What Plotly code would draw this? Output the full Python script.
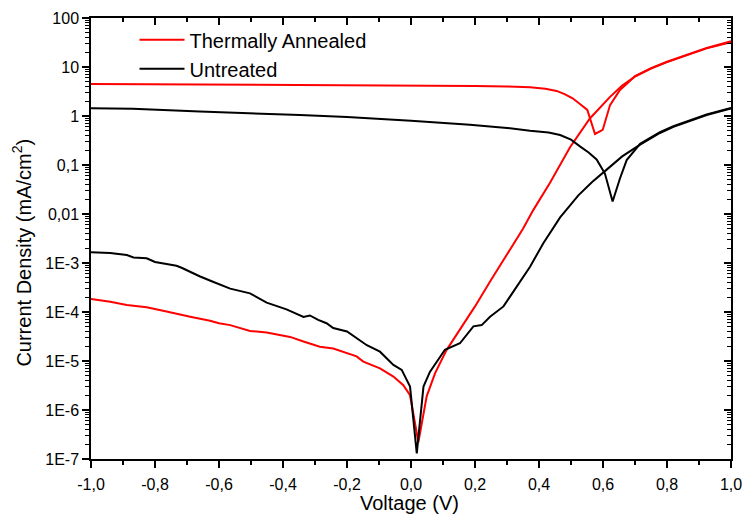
import plotly.graph_objects as go

# ---------------- data ----------------
annealed_dark_v = [-1.0, -0.94, -0.888, -0.826, -0.764, -0.733, -0.69, -0.628, -0.6, -0.565,
                   -0.503, -0.451, -0.378, -0.336, -0.285, -0.243, -0.2, -0.17, -0.149, -0.097,
                   -0.055, -0.024, -0.003, 0.023, 0.049, 0.075, 0.111, 0.153, 0.2, 0.25, 0.3,
                   0.35, 0.382, 0.434, 0.497, 0.559, 0.622, 0.66, 0.7, 0.75, 0.8, 0.87,
                   0.924, 1.0]
annealed_dark_j = [1.85e-4, 1.62e-4, 1.39e-4, 1.25e-4, 1.02e-4, 9.1e-5, 8.0e-5, 6.6e-5, 5.9e-5, 5.4e-5,
                   4.1e-5, 3.8e-5, 3.1e-5, 2.5e-5, 1.96e-5, 1.8e-5, 1.43e-5, 1.24e-5, 9.7e-6, 7.1e-6,
                   4.8e-6, 3.2e-6, 2.0e-6, 2.2e-7, 1.9e-6, 5.6e-6, 1.67e-5, 4.3e-5, 1.3e-4, 4.5e-4, 1.5e-3,
                   5.0e-3, 0.012, 0.043, 0.23, 0.89, 2.46, 4.2, 6.4, 9.3, 12.6, 18.0,
                   24.0, 32.0]

annealed_light_v = [-1.0, -0.8, -0.6, -0.4, -0.2, 0.0, 0.2, 0.3, 0.372, 0.42, 0.455, 0.48, 0.505,
                    0.528, 0.551, 0.575, 0.599, 0.622, 0.653, 0.7, 0.75, 0.8, 0.87, 0.924, 1.0]
annealed_light_j = [4.5, 4.45, 4.4, 4.3, 4.2, 4.15, 4.1, 4.0, 3.85, 3.6, 3.25, 2.8, 2.3,
                    1.75, 1.33, 0.43, 0.52, 1.67, 3.4, 6.5, 9.5, 12.8, 18.3, 24.5, 33.5]

untreated_dark_v = [-1.0, -0.94, -0.888, -0.867, -0.826, -0.8, -0.764, -0.733, -0.717, -0.69,
                    -0.659, -0.617, -0.565, -0.503, -0.451, -0.389, -0.336, -0.316, -0.29, -0.264,
                    -0.243, -0.2, -0.17, -0.138, -0.097, -0.055, -0.029, -0.003, 0.018, 0.039,
                    0.059, 0.106, 0.153, 0.195, 0.221, 0.247, 0.289, 0.33, 0.372, 0.413, 0.466,
                    0.523, 0.566, 0.606, 0.66, 0.716, 0.778, 0.82, 0.924, 1.0]
untreated_dark_j = [1.65e-3, 1.6e-3, 1.45e-3, 1.3e-3, 1.25e-3, 1.05e-3, 9.5e-4, 8.8e-4, 8.0e-4, 6.5e-4,
                    5.3e-4, 4.1e-4, 3.0e-4, 2.4e-4, 1.55e-4, 1.13e-4, 7.9e-5, 8.5e-5, 6.9e-5, 5.9e-5,
                    4.7e-5, 4.0e-5, 2.9e-5, 2.1e-5, 1.55e-5, 8.3e-6, 6.6e-6, 3.0e-6, 1.3e-7, 3.0e-6,
                    6.0e-6, 1.7e-5, 2.3e-5, 5.1e-5, 5.4e-5, 8.0e-5, 1.3e-4, 3.3e-4, 8.4e-4, 2.5e-3, 8.5e-3,
                    0.024, 0.045, 0.075, 0.15, 0.26, 0.45, 0.6, 1.05, 1.42]

untreated_light_v = [-1.0, -0.87, -0.66, -0.5, -0.347, -0.2, -0.1, 0.0, 0.184, 0.3, 0.372, 0.43,
                     0.466, 0.5, 0.528, 0.555, 0.58, 0.606, 0.63, 0.653, 0.674, 0.716, 0.778,
                     0.82, 0.924, 1.0]
untreated_light_j = [1.44, 1.4, 1.23, 1.15, 1.05, 0.95, 0.88, 0.8, 0.66, 0.57, 0.5, 0.46,
                     0.41, 0.33, 0.24, 0.18, 0.13, 0.067, 0.018, 0.053, 0.126, 0.27, 0.47,
                     0.62, 1.08, 1.46]

x_tick_vals = [-1.0, -0.8, -0.6, -0.4, -0.2, 0.0, 0.2, 0.4, 0.6, 0.8, 1.0]
x_tick_text = ["-1,0", "-0,8", "-0,6", "-0,4", "-0,2", "0,0", "0,2", "0,4", "0,6", "0,8", "1,0"]
y_tick_vals = [1e-7, 1e-6, 1e-5, 1e-4, 1e-3, 1e-2, 1e-1, 1, 10, 100]
y_tick_text = ["1E-7", "1E-6", "1E-5", "1E-4", "1E-3", "0,01", "0,1", "1", "10", "100"]

RED = "#ff0000"
BLACK = "#000000"
FONT = "Liberation Sans, Arial, sans-serif"

# minor tick positions (styling)
x_minor = [round(-1.0 + 0.1 * i, 2) for i in range(21)]
y_minor = [k * 10.0 ** e for e in range(-7, 2) for k in range(2, 10)]

fig = go.Figure()
fig.add_trace(go.Scatter(x=annealed_light_v, y=annealed_light_j, mode="lines",
                         line=dict(color=RED, width=2), name="Thermally Annealed",
                         legendgroup="a", showlegend=True))
fig.add_trace(go.Scatter(x=annealed_dark_v, y=annealed_dark_j, mode="lines",
                         line=dict(color=RED, width=2), name="Thermally Annealed",
                         legendgroup="a", showlegend=False))
fig.add_trace(go.Scatter(x=untreated_light_v, y=untreated_light_j, mode="lines",
                         line=dict(color=BLACK, width=2), name="Untreated",
                         legendgroup="u", showlegend=True))
fig.add_trace(go.Scatter(x=untreated_dark_v, y=untreated_dark_j, mode="lines",
                         line=dict(color=BLACK, width=2), name="Untreated",
                         legendgroup="u", showlegend=False))

axis_common = dict(showgrid=False, zeroline=False, linecolor=BLACK, linewidth=1.5,
                   tickcolor=BLACK, tickwidth=1.5, automargin=False,
                   ticklabeloverflow="allow")

fig.update_layout(
    width=742, height=515,
    margin=dict(l=91, r=11, t=18, b=56),
    paper_bgcolor="white", plot_bgcolor="white",
    font=dict(family=FONT, color=BLACK, size=16),
    showlegend=True,
    legend=dict(x=0.068, y=0.995, xanchor="left", yanchor="top",
                bgcolor="rgba(0,0,0,0)", font=dict(size=20, family=FONT),
                tracegroupgap=0, itemwidth=45),
    xaxis=dict(range=[-1.0, 1.0], tickmode="array", tickvals=x_tick_vals, ticktext=x_tick_text,
               ticks="outside", ticklen=7, showline=True, mirror=True, ticklabelstandoff=3,
               minor=dict(tickmode="array", tickvals=x_minor, ticks="outside", ticklen=4,
                          tickcolor=BLACK, tickwidth=1.5),
               tickfont=dict(size=16, family=FONT), **axis_common),
    yaxis=dict(type="log", range=[-7, 2], tickmode="array", tickvals=y_tick_vals,
               ticktext=y_tick_text, ticks="outside", ticklen=7, showline=True, mirror=True,
               minor=dict(tickmode="array", tickvals=y_minor, ticks="outside", ticklen=4,
                          tickcolor=BLACK, tickwidth=1.2),
               tickfont=dict(size=16, family=FONT), **axis_common),
    xaxis2=dict(range=[-1.0, 1.0], overlaying="x", side="top", anchor="y",
                tickmode="array", tickvals=x_tick_vals, showticklabels=False,
                ticks="inside", ticklen=7, showline=False, automargin=False,
                minor=dict(tickmode="array", tickvals=x_minor, ticks="inside", ticklen=4,
                           tickcolor=BLACK, tickwidth=1.5),
                showgrid=False, zeroline=False, tickcolor=BLACK, tickwidth=1.5),
    yaxis2=dict(type="log", range=[-7, 2], overlaying="y", side="right", anchor="x",
                tickmode="array", tickvals=y_tick_vals, showticklabels=False,
                ticks="inside", ticklen=7, showline=False, automargin=False,
                minor=dict(tickmode="array", tickvals=y_minor, ticks="inside", ticklen=4,
                           tickcolor=BLACK, tickwidth=1.2),
                showgrid=False, zeroline=False, tickcolor=BLACK, tickwidth=1.5),
    annotations=[
        dict(text="Voltage (V)", xref="paper", yref="paper", x=0.497, y=-0.0998,
             xanchor="center", yanchor="middle", showarrow=False,
             font=dict(size=20, family=FONT, color=BLACK)),
        dict(text="Current Density (mA/cm<sup>2</sup>)", xref="paper", yref="paper",
             x=-0.1078, y=0.468, xanchor="center", yanchor="middle", textangle=-90,
             showarrow=False, font=dict(size=20, family=FONT, color=BLACK)),
    ],
)

# invisible helper trace so the mirrored tick axes are drawn
fig.add_trace(go.Scatter(x=[-1.0], y=[1.0], xaxis="x2", yaxis="y2", mode="markers",
                         marker=dict(opacity=0), showlegend=False, hoverinfo="skip"))

fig.write_html("out.html")
